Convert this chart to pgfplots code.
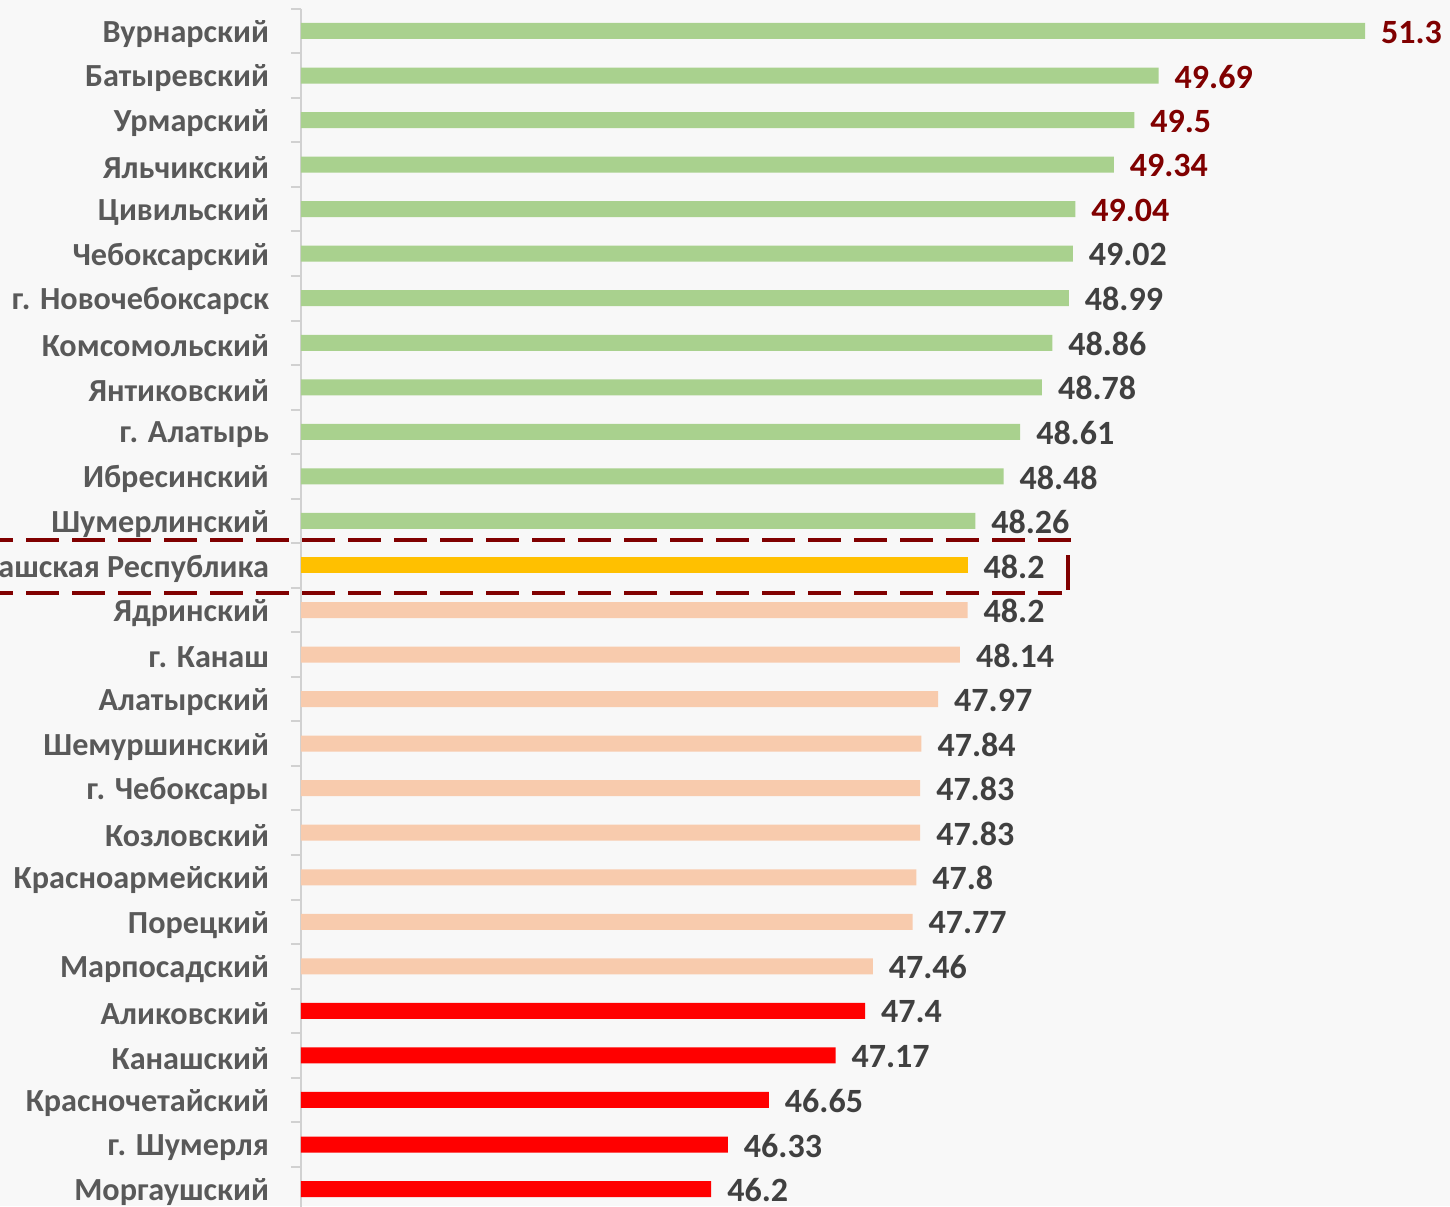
\documentclass[border=0pt]{standalone}
\usepackage{fontspec}
\setmainfont{Carlito}
\usepackage{pgfplots}
\pgfplotsset{compat=1.18}
\usepackage{pgfplotstable}
\definecolor{cgreen}{HTML}{A9D18E}
\definecolor{cgold}{HTML}{FFC000}
\definecolor{cpeach}{HTML}{F8CBAD}
\definecolor{cred}{HTML}{FF0000}
\definecolor{cdark}{HTML}{800000}
\definecolor{ccat}{HTML}{595959}
\definecolor{cval}{HTML}{404040}
\definecolor{cbg}{HTML}{F8F8F8}
\pgfplotstableread{
y v
0 51.3
1 49.69
2 49.5
3 49.34
4 49.04
}\tgreenA
\pgfplotstableread{
y v
5 49.02
6 48.99
7 48.86
8 48.78
9 48.61
10 48.48
11 48.26
}\tgreenB
\pgfplotstableread{
y v
12 48.2
}\tgold
\pgfplotstableread{
y v
13 48.2
14 48.14
15 47.97
16 47.84
17 47.83
18 47.83
19 47.8
20 47.77
21 47.46
}\tpeach
\pgfplotstableread{
y v
22 47.4
23 47.17
24 46.65
25 46.33
26 46.2
}\tred
\begin{document}
\begin{tikzpicture}
\fill[cbg] (0,0) rectangle (725pt,-603pt);
\begin{axis}[
  at={(150.5pt,-4.35pt)}, anchor=north west,
  scale only axis, width=576.9pt, height=601.3pt,
  xmin=43, xmax=52, ymin=-0.5, ymax=26.5, y dir=reverse,
  xbar, bar width=8pt,
  axis y line*=left, axis x line=none,
  xtick=\empty,
  ytick={0,...,26},
  yticklabels={Вурнарский,Батыревский,Урмарский,Яльчикский,Цивильский,Чебоксарский,г. Новочебоксарск,Комсомольский,Янтиковский,г. Алатырь,Ибресинский,Шумерлинский,Чувашская Республика,Ядринский,г. Канаш,Алатырский,Шемуршинский,г. Чебоксары,Козловский,Красноармейский,Порецкий,Марпосадский,Аликовский,Канашский,Красночетайский,г. Шумерля,Моргаушский},
  major tick length=0pt,
  minor ytick={-0.5,0.5,...,26.5},
  minor tick length=5pt, tick align=outside,
  every minor tick/.append style={draw=black!18, line width=1pt},
  y axis line style={draw=black!18, line width=1pt},
  yticklabel style={font=\fontsize{16.1}{19}\selectfont\bfseries, text=ccat, xshift=-12.5pt, yshift=-1.5pt},
  nodes near coords={\pgfmathprintnumber[fixed,precision=2]{\pgfplotspointmeta}},
  point meta=x,
  nodes near coords style={font=\fontsize{17}{19}\selectfont\bfseries, text=cval, anchor=west, xshift=4.5pt, yshift=-0.5pt},
  /pgf/number format/assume math mode=true,
]
\addplot[draw=none, fill=cgreen, bar shift=0pt, nodes near coords style={text=cdark}] table[x=v,y=y] {\tgreenA};
\addplot[draw=none, fill=cgreen, bar shift=0pt] table[x=v,y=y] {\tgreenB};
\addplot[draw=none, fill=cgold, bar shift=0pt] table[x=v,y=y] {\tgold};
\addplot[draw=none, fill=cpeach, bar shift=0pt] table[x=v,y=y] {\tpeach};
\addplot[draw=none, fill=cred, bar shift=0pt] table[x=v,y=y] {\tred};
\end{axis}
\draw[cdark, line width=2pt, dash pattern=on 16.5pt off 6.5pt] (-10pt,-270pt) -- (535.5pt,-270pt);
\draw[cdark, line width=2pt, dash pattern=on 16.5pt off 6.5pt] (-10pt,-296.5pt) -- (531pt,-296.5pt);
\draw[cdark, line width=2pt] (534pt,-277.5pt) -- (534pt,-295pt);
\pgfresetboundingbox
\useasboundingbox (0,0) rectangle (725pt,-603pt);
\end{tikzpicture}
\end{document}
